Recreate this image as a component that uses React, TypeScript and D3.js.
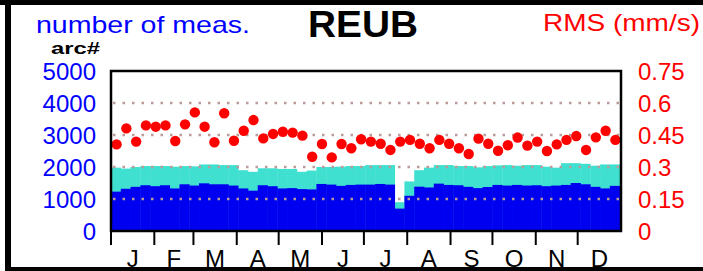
import * as React from "react";
import * as d3 from "d3";

// weekly values
const arcCounts = [
	1230, 1320, 1380, 1430, 1400, 1430, 1330, 1460, 1420, 1490, 1460, 1460, 1420,
	1330, 1260, 1430, 1400, 1330, 1340, 1310, 1300, 1470, 1450, 1410, 1440, 1450,
	1450, 1470, 1450, 700, 1100, 1385, 1360, 1480, 1440, 1430, 1380, 1340, 1375,
	1440, 1420, 1440, 1420, 1430, 1400, 1420, 1440, 1500, 1460, 1380, 1330, 1410,
];
const measCounts = [
	1980, 1950, 2000, 2030, 2030, 2030, 2010, 2030, 2020, 2080, 2080, 2060, 2060,
	1900, 1850, 1960, 1960, 1940, 1940, 1850, 1890, 2000, 2000, 2010, 2030, 2030,
	2060, 2060, 2060, 900, 1550, 1900, 1980, 2060, 2060, 2030, 2030, 1990, 2030,
	2050, 2060, 2040, 2060, 2060, 2010, 1980, 2120, 2120, 2100, 2040, 2080, 2080,
];
const rmsValues = [
	0.406, 0.481, 0.419, 0.495, 0.489, 0.495, 0.422, 0.5, 0.556, 0.489, 0.416,
	0.552, 0.423, 0.47, 0.52, 0.434, 0.455, 0.465, 0.461, 0.447, 0.348, 0.408,
	0.345, 0.408, 0.388, 0.43, 0.419, 0.409, 0.38, 0.419, 0.427, 0.409, 0.388,
	0.427, 0.409, 0.388, 0.361, 0.433, 0.409, 0.376, 0.402, 0.438, 0.4, 0.419,
	0.375, 0.406, 0.427, 0.445, 0.38, 0.439, 0.47, 0.427,
];
const monthLabels = ["J", "F", "M", "A", "M", "J", "J", "A", "S", "O", "N", "D"];
const countTicks = [0, 1000, 2000, 3000, 4000, 5000];
const rmsTicks = [0, 0.15, 0.3, 0.45, 0.6, 0.75];

const font = "'Liberation Sans', Arial, Helvetica, sans-serif";
const gridColor = "#bb9a9a";

function App() {
	const width = 703;
	const height = 271;
	const left = 111;
	const right = 621;
	const top = 71;
	const bottom = 231;

	const yearStart = new Date(Date.UTC(2019, 0, 1));
	const yearEnd = new Date(Date.UTC(2020, 0, 1));
	const day = 24 * 3600 * 1000;

	const xScale = d3.scaleUtc().domain([yearStart, yearEnd]).range([left, right]);
	const yCount = d3.scaleLinear().domain([0, 5000]).range([bottom, top]);
	const yRms = d3.scaleLinear().domain([0, 0.75]).range([bottom, top]);

	const weekStart = (i: number) => new Date(yearStart.getTime() + i * 7 * day);
	const weekEnd = (i: number) =>
		i === arcCounts.length - 1 ? yearEnd : weekStart(i + 1);

	const months = d3.utcMonths(yearStart, yearEnd);

	return (
		<svg
			width={width}
			height={height}
			style={{ position: "absolute", left: 0, top: 0, background: "white" }}
			fontFamily={font}
		>
			{/* outer frame */}
			<rect x={0} y={0} width={width} height={5} fill="black" />
			<rect x={5} y={0} width={6} height={height} fill="black" />
			<rect x={5} y={267} width={width - 5} height={4} fill="black" />

			{/* bars */}
			<g>
				{measCounts.map((v, i) => {
					const x0 = xScale(weekStart(i));
					const x1 = xScale(weekEnd(i));
					return (
						<rect
							key={`m${i}`}
							x={x0}
							y={yCount(v)}
							width={x1 - x0 + 0.4}
							height={yCount(0) - yCount(v)}
							fill="#40e0d0"
						/>
					);
				})}
				{arcCounts.map((v, i) => {
					const x0 = xScale(weekStart(i));
					const x1 = xScale(weekEnd(i));
					return (
						<rect
							key={`a${i}`}
							x={x0}
							y={yCount(v)}
							width={x1 - x0 + 0.4}
							height={yCount(0) - yCount(v)}
							fill="#0000f0"
						/>
					);
				})}
			</g>

			{/* dotted grid */}
			{countTicks.slice(1, -1).map((t) => (
				<line
					key={t}
					x1={left + 2}
					x2={right}
					y1={yCount(t)}
					y2={yCount(t)}
					stroke={gridColor}
					strokeWidth={2.5}
					strokeDasharray="2.5 7"
				/>
			))}

			{/* RMS dots */}
			{rmsValues.map((v, i) => (
				<circle
					key={i}
					cx={xScale(new Date(weekStart(i).getTime() + 4 * day))}
					cy={yRms(v)}
					r={5.2}
					fill="#ff0000"
				/>
			))}

			{/* plot frame */}
			<rect
				x={left}
				y={top}
				width={right - left}
				height={bottom - top}
				fill="none"
				stroke="black"
				strokeWidth={2.5}
			/>

			{/* month ticks and labels */}
			{months.map((m, i) => {
				const x = xScale(m);
				const next = i < months.length - 1 ? months[i + 1] : yearEnd;
				const mid = (x + xScale(next)) / 2;
				return (
					<g key={i}>
						<line
							x1={x}
							x2={x}
							y1={bottom}
							y2={245}
							stroke="black"
							strokeWidth={2}
						/>
						<text x={mid} y={267} fontSize={24} textAnchor="middle">
							{monthLabels[i]}
						</text>
					</g>
				);
			})}

			{/* left axis */}
			{countTicks.map((t) => (
				<text
					key={t}
					x={96}
					y={yCount(t)}
					dy="0.36em"
					fontSize={24}
					textAnchor="end"
					fill="#0000ff"
				>
					{t}
				</text>
			))}

			{/* right axis */}
			{rmsTicks.map((t) => (
				<text
					key={t}
					x={638}
					y={yRms(t)}
					dy="0.36em"
					fontSize={24}
					fill="#ff0000"
				>
					{t}
				</text>
			))}

			{/* titles */}
			<text
				x={36}
				y={33}
				fontSize={24}
				fill="#0000ff"
				textLength={214}
				lengthAdjust="spacingAndGlyphs"
			>
				number of meas.
			</text>
			<text
				x={51}
				y={54}
				fontSize={17}
				fontWeight="bold"
				textLength={49}
				lengthAdjust="spacingAndGlyphs"
			>
				arc#
			</text>
			<text
				x={308}
				y={37}
				fontSize={37}
				fontWeight="bold"
				textLength={110}
				lengthAdjust="spacingAndGlyphs"
			>
				REUB
			</text>
			<text
				x={543}
				y={31}
				fontSize={24}
				fill="#ff0000"
				textLength={157}
				lengthAdjust="spacingAndGlyphs"
			>
				RMS (mm/s)
			</text>
		</svg>
	);
}

export default App;
